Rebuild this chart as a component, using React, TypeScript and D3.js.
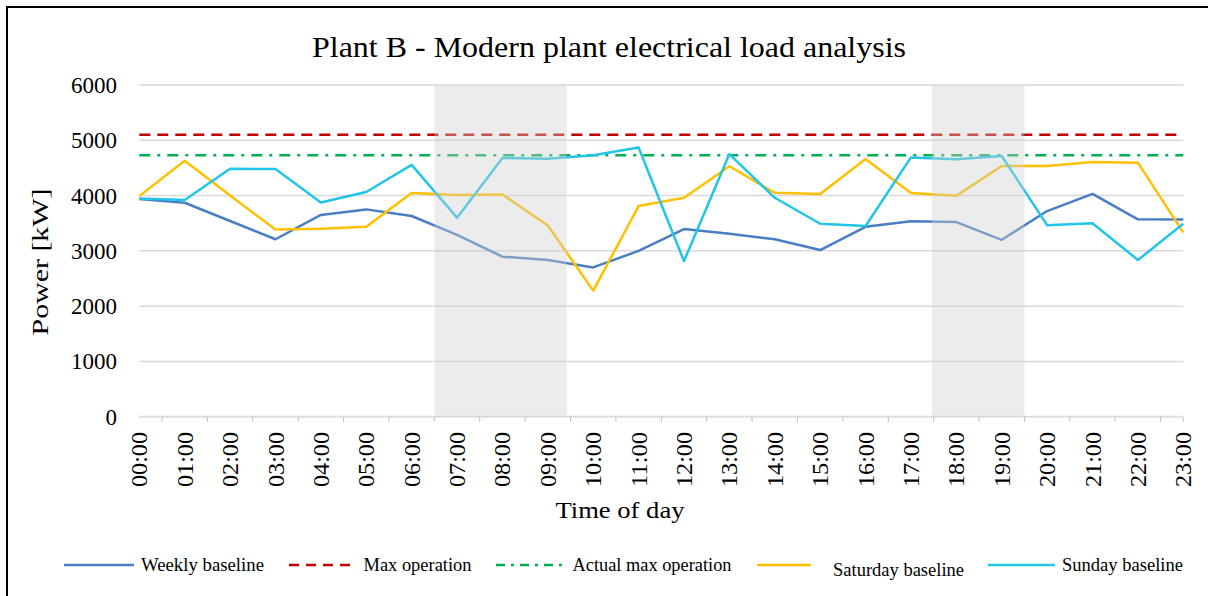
import React from "react";
import * as d3 from "d3";

const hours = ["00:00","01:00","02:00","03:00","04:00","05:00","06:00","07:00","08:00","09:00","10:00","11:00","12:00","13:00","14:00","15:00","16:00","17:00","18:00","19:00","20:00","21:00","22:00","23:00"];
const weekly = [3940,3870,3540,3210,3650,3750,3630,3290,2895,2835,2700,3000,3395,3310,3210,3015,3435,3535,3520,3200,3720,4030,3570,3565];
const saturday = [3990,4630,4000,3385,3400,3435,4045,4010,4020,3460,2280,3810,3960,4530,4050,4030,4660,4045,3995,4535,4535,4605,4595,3330];
const sunday = [3945,3920,4485,4480,3875,4065,4555,3600,4680,4665,4730,4870,2815,4750,3960,3490,3450,4690,4655,4715,3465,3500,2835,3490];
const maxOperation = 5100;
const actualMaxOperation = 4730;
const yTicks = [0,1000,2000,3000,4000,5000,6000];
// shaded periods, in hour units
const peakStart = [6.5, 17.46];
const peakEnd = [9.42, 19.5];

const FONT = "'Liberation Serif', 'Times New Roman', serif";

export default function App() {
  const W = 1208, H = 596;
  const x0 = 139.3, x1 = 1183.3, yTop = 85, yBot = 416.7;
  const x = d3.scaleLinear().domain([0, hours.length - 1]).range([x0, x1]);
  const y = d3.scaleLinear().domain([0, 6000]).range([yBot, yTop]);
  const line = d3.line<number>().x((_, i) => x(i)).y((d) => y(d));

  const series = [
    { name: "Weekly baseline", data: weekly, color: "#4a7ec4" },
    { name: "Saturday baseline", data: saturday, color: "#ffc000" },
    { name: "Sunday baseline", data: sunday, color: "#22c5e7" },
  ];

  const tickPos = d3.range(0, hours.length - 1).map((i) => i + 0.5).concat([hours.length - 1]);

  const legend = [
    { name: "Weekly baseline", color: "#4a7ec4", dash: "", lx: 64, lw: 70, tx: 141, tl: 123, ty: 571 },
    { name: "Max operation", color: "#c00000", dash: "10 7", lx: 289, lw: 62, tx: 363.5, tl: 108, ty: 571 },
    { name: "Actual max operation", color: "#00b050", dash: "9 6 3 6", lx: 496, lw: 66, tx: 572.5, tl: 159, ty: 571 },
    { name: "Saturday baseline", color: "#ffc000", dash: "", lx: 757, lw: 54, tx: 833, tl: 131, ty: 576 },
    { name: "Sunday baseline", color: "#22c5e7", dash: "", lx: 988, lw: 67, tx: 1062, tl: 121, ty: 571 },
  ];

  return (
    <svg width={W} height={H} style={{ position: "absolute", left: 0, top: 0, background: "#fff" }} fontFamily={FONT}>
      <rect x={7} y={7} width={W + 10} height={H + 10} fill="#fff" stroke="#000" strokeWidth={2} />
      <text x={609} y={57} textAnchor="middle" fontSize={30} fill="#000" textLength={594} lengthAdjust="spacingAndGlyphs">Plant B - Modern plant electrical load analysis</text>
      {yTicks.map((t) => (
        <g key={t}>
          {t > 0 && <line x1={x0} x2={x1} y1={y(t)} y2={y(t)} stroke="#d9d9d9" strokeWidth={1.5} />}
          <text x={117} y={y(t)} dy="0.35em" textAnchor="end" fontSize={23} fill="#000">{t}</text>
        </g>
      ))}
      {/* axis */}
      <line x1={x0} x2={x1} y1={yBot} y2={yBot} stroke="#bfbfbf" strokeWidth={2} strokeDasharray="1 1" />
      {tickPos.map((p, i) => (
        <line key={i} x1={x(p)} x2={x(p)} y1={yBot} y2={yBot + 5} stroke="#bfbfbf" strokeWidth={1} />
      ))}
      {/* constant lines */}
      <line x1={x0} x2={x1} y1={y(maxOperation)} y2={y(maxOperation)} stroke="#c00000" strokeWidth={2.5} strokeDasharray="11 7" />
      <line x1={x0} x2={x1} y1={y(actualMaxOperation)} y2={y(actualMaxOperation)} stroke="#00b050" strokeWidth={2.5} strokeDasharray="11 7 3 7" />
      {series.map((s) => (
        <path key={s.name} d={line(s.data) || ""} fill="none" stroke={s.color} strokeWidth={2.5} strokeLinejoin="round" />
      ))}
      {peakStart.map((s, i) => (
        <rect key={i} x={x(s)} y={yTop} width={x(peakEnd[i]) - x(s)} height={yBot - yTop} fill="#cfcfcf" opacity={0.4} />
      ))}
      {hours.map((h, i) => (
        <text key={h} transform={`translate(${x(i)},${432}) rotate(-90)`} textAnchor="end" dy="0.35em" fontSize={23} fill="#000" textLength={55} lengthAdjust="spacingAndGlyphs">{h}</text>
      ))}
      <text transform={`translate(48,262) rotate(-90)`} textAnchor="middle" fontSize={23} fill="#000" textLength={147} lengthAdjust="spacingAndGlyphs">Power [kW]</text>
      <text x={620} y={518} textAnchor="middle" fontSize={24} fill="#000" textLength={129} lengthAdjust="spacingAndGlyphs">Time of day</text>
      {legend.map((l) => (
        <g key={l.name}>
          <line x1={l.lx} x2={l.lx + l.lw} y1={565} y2={565} stroke={l.color} strokeWidth={2.5} strokeDasharray={l.dash} />
          <text x={l.tx} y={l.ty} fontSize={18} fill="#000" textLength={l.tl} lengthAdjust="spacingAndGlyphs">{l.name}</text>
        </g>
      ))}
    </svg>
  );
}
